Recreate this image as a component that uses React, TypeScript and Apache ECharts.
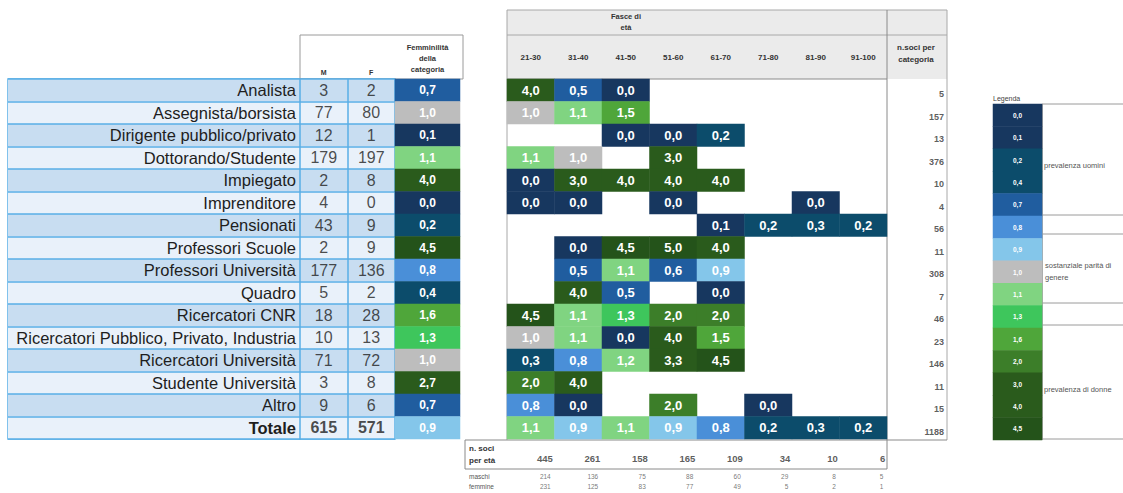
import React, { useEffect, useRef } from "react";
import * as echarts from "echarts";

const categories = [
  "Analista",
  "Assegnista/borsista",
  "Dirigente pubblico/privato",
  "Dottorando/Studente",
  "Impiegato",
  "Imprenditore",
  "Pensionati",
  "Professori Scuole",
  "Professori Università",
  "Quadro",
  "Ricercatori CNR",
  "Ricercatori Pubblico, Privato, Industria",
  "Ricercatori Università",
  "Studente Università",
  "Altro",
  "Totale",
];
const maleCounts = [3, 77, 12, 179, 2, 4, 43, 2, 177, 5, 18, 10, 71, 3, 9, 615];
const femaleCounts = [2, 80, 1, 197, 8, 0, 9, 9, 136, 2, 28, 13, 72, 8, 6, 571];
const femininity = [0.7, 1.0, 0.1, 1.1, 4.0, 0.0, 0.2, 4.5, 0.8, 0.4, 1.6, 1.3, 1.0, 2.7, 0.7, 0.9];
const ageBands = ["21-30", "31-40", "41-50", "51-60", "61-70", "71-80", "81-90", "91-100"];
const N = null;
const ageFemininity: (number | null)[][] = [
  [4.0, 0.5, 0.0, N, N, N, N, N],
  [1.0, 1.1, 1.5, N, N, N, N, N],
  [N, N, 0.0, 0.0, 0.2, N, N, N],
  [1.1, 1.0, N, 3.0, N, N, N, N],
  [0.0, 3.0, 4.0, 4.0, 4.0, N, N, N],
  [0.0, 0.0, N, 0.0, N, N, 0.0, N],
  [N, N, N, N, 0.1, 0.2, 0.3, 0.2],
  [N, 0.0, 4.5, 5.0, 4.0, N, N, N],
  [N, 0.5, 1.1, 0.6, 0.9, N, N, N],
  [N, 4.0, 0.5, N, 0.0, N, N, N],
  [4.5, 1.1, 1.3, 2.0, 2.0, N, N, N],
  [1.0, 1.1, 0.0, 4.0, 1.5, N, N, N],
  [0.3, 0.8, 1.2, 3.3, 4.5, N, N, N],
  [2.0, 4.0, N, N, N, N, N, N],
  [0.8, 0.0, N, 2.0, N, 0.0, N, N],
  [1.1, 0.9, 1.1, 0.9, 0.8, 0.2, 0.3, 0.2],
];
const membersPerCategory = [5, 157, 13, 376, 10, 4, 56, 11, 308, 7, 46, 23, 146, 11, 15, 1188];
const membersPerAge = [445, 261, 158, 165, 109, 34, 10, 6];
const malesPerAge = [214, 136, 75, 88, 60, 29, 8, 5];
const femalesPerAge = [231, 125, 83, 77, 49, 5, 2, 1];
const legendValues = [0.0, 0.1, 0.2, 0.4, 0.7, 0.8, 0.9, 1.0, 1.1, 1.3, 1.6, 2.0, 3.0, 4.0, 4.5];

const FONT = "'Liberation Sans', Arial, sans-serif";
const fmt = (v: number) => v.toFixed(1).replace(".", ",");

export default function App() {
  const ref = useRef<HTMLDivElement>(null);
  useEffect(() => {
    if (!ref.current) return;
    const chart = echarts.init(ref.current, undefined, { renderer: "svg" });
    const nRows = categories.length;
    const rowH = 22.5;
    const top = 79;
    const tableH = rowH * nRows;
    const blueLine = "#58aee6";

    const hiddenCat = (data: string[], gridIndex: number, inverse = false) => ({
      type: "category",
      data,
      gridIndex,
      inverse,
      show: false,
    });

    const textScatter = (xi: number, yi: number, data: any[], label: any) => ({
      type: "scatter",
      xAxisIndex: xi,
      yAxisIndex: yi,
      symbolSize: 1,
      silent: true,
      itemStyle: { color: "rgba(0,0,0,0)" },
      label: {
        show: true,
        position: "inside",
        fontFamily: FONT,
        textBorderWidth: 0,
        formatter: (p: any) => String(p.value[2]),
        ...label,
      },
      data,
    });

    const mfData: any[] = [];
    categories.forEach((_, i) => {
      const bold = i === nRows - 1 ? "bold" : "normal";
      mfData.push({ value: [0, i, maleCounts[i]], label: { fontWeight: bold } });
      mfData.push({ value: [1, i, femaleCounts[i]], label: { fontWeight: bold } });
    });
    const femmData = femininity.map((v, i) => [0, i, v]);
    const midData: any[] = [];
    ageFemininity.forEach((row, r) =>
      row.forEach((v, c) => {
        if (v !== null) midData.push([c, r, v]);
      })
    );
    const perCatData = membersPerCategory.map((v, i) => [0, i, v]);
    const perAgeData = membersPerAge.map((v, c) => [c, 0, v]);
    const mfAgeData: any[] = [];
    malesPerAge.forEach((v, c) => mfAgeData.push([c, 0, v]));
    femalesPerAge.forEach((v, c) => mfAgeData.push([c, 1, v]));
    const legendData = legendValues.map((v, i) => [0, i, v]);

    const cellLabel = (size: number) => ({
      show: true,
      color: "#ffffff",
      fontWeight: "bold",
      fontFamily: FONT,
      fontSize: size,
      formatter: (p: any) => fmt(p.value[2]),
    });

    const option: any = {
      animation: false,
      backgroundColor: "#ffffff",
      grid: [
        { left: 8, top, width: 292, height: tableH, show: true, borderColor: blueLine, borderWidth: 1.5, backgroundColor: "transparent" },
        { left: 300, top, width: 95, height: tableH, show: true, borderColor: blueLine, borderWidth: 1.5, backgroundColor: "transparent" },
        { left: 395, top, width: 65, height: tableH },
        { left: 507, top, width: 380, height: tableH },
        { left: 887, top, width: 58, height: tableH },
        { left: 507, top: 440, width: 380, height: 29 },
        { left: 507, top: 471, width: 380, height: 21 },
        { left: 993, top: 104, width: 49, height: 336 },
      ],
      xAxis: [
        { type: "value", gridIndex: 0, show: false },
        {
          type: "category",
          gridIndex: 1,
          data: ["M", "F"],
          position: "top",
          axisLine: { show: false },
          axisTick: { show: false },
          axisLabel: { fontSize: 7, fontWeight: "bold", color: "#333", fontFamily: FONT, margin: 3 },
          splitLine: { show: true, lineStyle: { color: blueLine, width: 1.5 } },
        },
        {
          type: "category",
          gridIndex: 2,
          data: ["Femminilità\ndella\ncategoria"],
          position: "top",
          axisLine: { show: false },
          axisTick: { show: false },
          axisLabel: { fontSize: 7.5, fontWeight: "bold", color: "#333", fontFamily: FONT, margin: 4, lineHeight: 11 },
        },
        {
          type: "category",
          gridIndex: 3,
          data: ageBands,
          position: "top",
          axisLine: { show: false },
          axisTick: { show: false },
          axisLabel: { fontSize: 8, fontWeight: "bold", color: "#333", fontFamily: FONT, margin: 18 },
        },
        {
          type: "category",
          gridIndex: 4,
          data: ["n.soci per\ncategoria"],
          position: "top",
          axisLine: { show: false },
          axisTick: { show: false },
          axisLabel: { fontSize: 8, fontWeight: "bold", color: "#333", fontFamily: FONT, margin: 14, lineHeight: 12 },
        },
        hiddenCat(ageBands, 5),
        hiddenCat(ageBands, 6),
        hiddenCat([""], 7),
      ],
      yAxis: [
        {
          type: "category",
          gridIndex: 0,
          data: categories,
          inverse: true,
          axisLine: { show: false },
          axisTick: { show: false },
          axisLabel: { show: false },
          splitArea: { show: true, areaStyle: { color: ["#c8ddf1", "#e9f1fa"] } },
          splitLine: { show: true, lineStyle: { color: blueLine, width: 1.5 } },
        },
        {
          type: "category",
          gridIndex: 1,
          data: categories,
          inverse: true,
          axisLine: { show: false },
          axisTick: { show: false },
          axisLabel: {
            fontSize: 16.5,
            color: "#1e1e1e",
            fontFamily: FONT,
            margin: 4,
            formatter: (v: string) => (v === "Totale" ? "{b|" + v + "}" : v),
            rich: { b: { fontSize: 16.5, fontWeight: "bold", color: "#1e1e1e", fontFamily: FONT } },
          },
          splitArea: { show: true, areaStyle: { color: ["#c8ddf1", "#e9f1fa"] } },
          splitLine: { show: true, lineStyle: { color: blueLine, width: 1.5 } },
        },
        hiddenCat(categories, 2, true),
        hiddenCat(categories, 3, true),
        hiddenCat(categories, 4, true),
        {
          type: "category",
          gridIndex: 5,
          data: ["n. soci\nper età"],
          axisLine: { show: false },
          axisTick: { show: false },
          axisLabel: { align: "left", margin: 38, fontSize: 8, fontWeight: "bold", color: "#333", fontFamily: FONT, lineHeight: 12 },
        },
        {
          type: "category",
          gridIndex: 6,
          data: ["maschi", "femmine"],
          inverse: true,
          axisLine: { show: false },
          axisTick: { show: false },
          axisLabel: { align: "left", margin: 38, fontSize: 6.5, color: "#555", fontFamily: FONT },
        },
        hiddenCat(legendValues.map(String), 7, true),
      ],
      visualMap: {
        type: "piecewise",
        show: false,
        dimension: 2,
        seriesIndex: [1, 2, 6],
        pieces: [
          { lt: 0.15, color: "#17375f" },
          { gte: 0.15, lt: 0.5, color: "#0c4c6b" },
          { gte: 0.5, lt: 0.75, color: "#205d9f" },
          { gte: 0.75, lt: 0.85, color: "#4a8fd8" },
          { gte: 0.85, lt: 0.95, color: "#84c6ea" },
          { gte: 0.95, lt: 1.05, color: "#bdbdbd" },
          { gte: 1.05, lt: 1.25, color: "#80d481" },
          { gte: 1.25, lt: 1.45, color: "#3ec65c" },
          { gte: 1.45, lt: 1.8, color: "#4fa63a" },
          { gte: 1.8, lt: 2.5, color: "#3c7e29" },
          { gte: 2.5, lt: 4.25, color: "#2a5b1c" },
          { gte: 4.25, color: "#24531a" },
        ],
      },
      series: [
        textScatter(1, 1, mfData, { fontSize: 16, color: "#1e1e1e" }),
        {
          type: "heatmap",
          xAxisIndex: 2,
          yAxisIndex: 2,
          label: cellLabel(12),
          data: femmData,
        },
        {
          type: "heatmap",
          xAxisIndex: 3,
          yAxisIndex: 3,
          label: cellLabel(13),
          data: midData,
        },
        textScatter(4, 4, perCatData, { align: "right", offset: [28, 4], fontSize: 9, fontWeight: "bold", color: "#333" }),
        textScatter(5, 5, perAgeData, { align: "right", offset: [22, 4], fontSize: 9.5, fontWeight: "bold", color: "#333" }),
        textScatter(6, 6, mfAgeData, { align: "right", offset: [20, 0], fontSize: 6.5, color: "#555" }),
        {
          type: "heatmap",
          xAxisIndex: 7,
          yAxisIndex: 7,
          label: cellLabel(6.5),
          data: legendData,
        },
      ],
      graphic: [
        { type: "rect", z: -10, shape: { x: 507, y: 10, width: 440, height: 69 }, style: { fill: "#ebebeb" } },
        { type: "rect", shape: { x: 300, y: 35, width: 163, height: 44 }, style: { fill: "none", stroke: "#9a9a9a", lineWidth: 1 } },
        { type: "line", shape: { x1: 507, y1: 10, x2: 947, y2: 10 }, style: { stroke: "#a8a8a8", lineWidth: 1 } },
        { type: "line", shape: { x1: 507, y1: 35, x2: 947, y2: 35 }, style: { stroke: "#a8a8a8", lineWidth: 1 } },
        { type: "line", shape: { x1: 507, y1: 79, x2: 887, y2: 79 }, style: { stroke: "#8a8a8a", lineWidth: 1 } },
        { type: "line", shape: { x1: 507, y1: 10, x2: 507, y2: 440 }, style: { stroke: "#a8a8a8", lineWidth: 1 } },
        { type: "line", shape: { x1: 887, y1: 10, x2: 887, y2: 469 }, style: { stroke: "#8a8a8a", lineWidth: 1 } },
        { type: "line", shape: { x1: 947, y1: 10, x2: 947, y2: 440 }, style: { stroke: "#a8a8a8", lineWidth: 1 } },
        { type: "line", shape: { x1: 465, y1: 440, x2: 947, y2: 440 }, style: { stroke: "#8a8a8a", lineWidth: 1 } },
        { type: "line", shape: { x1: 465, y1: 440, x2: 465, y2: 469 }, style: { stroke: "#8a8a8a", lineWidth: 1 } },
        { type: "line", shape: { x1: 465, y1: 469, x2: 887, y2: 469 }, style: { stroke: "#8a8a8a", lineWidth: 1 } },
        {
          type: "text",
          x: 626,
          y: 22,
          style: { text: "Fasce di\netà", fontSize: 7.5, fontWeight: "bold", fill: "#333", fontFamily: FONT, align: "center", verticalAlign: "middle", lineHeight: 11 },
        },
        { type: "text", x: 993, y: 98, style: { text: "Legenda", fontSize: 7, fill: "#444", fontFamily: FONT, verticalAlign: "middle" } },
        { type: "line", shape: { x1: 1042, y1: 104, x2: 1042, y2: 440 }, style: { stroke: "#555", lineWidth: 1 } },
        ...[104, 215, 234, 303, 325, 439].map((y) => ({
          type: "line",
          shape: { x1: 1042, y1: y, x2: 1123, y2: y },
          style: { stroke: "#9a9a9a", lineWidth: 1 },
        })),
        { type: "text", x: 1044, y: 165, style: { text: "prevalenza uomini", fontSize: 7.5, fill: "#555", fontFamily: FONT, verticalAlign: "middle" } },
        {
          type: "text",
          x: 1045,
          y: 271,
          style: { text: "sostanziale parità di\ngenere", fontSize: 7.5, fill: "#555", fontFamily: FONT, verticalAlign: "middle", lineHeight: 12 },
        },
        { type: "text", x: 1044, y: 389, style: { text: "prevalenza di donne", fontSize: 7.5, fill: "#555", fontFamily: FONT, verticalAlign: "middle" } },
      ],
    };
    chart.setOption(option);
    return () => chart.dispose();
  }, []);
  return <div ref={ref} style={{ position: "fixed", left: 0, top: 0, width: 1123, height: 493 }} />;
}
